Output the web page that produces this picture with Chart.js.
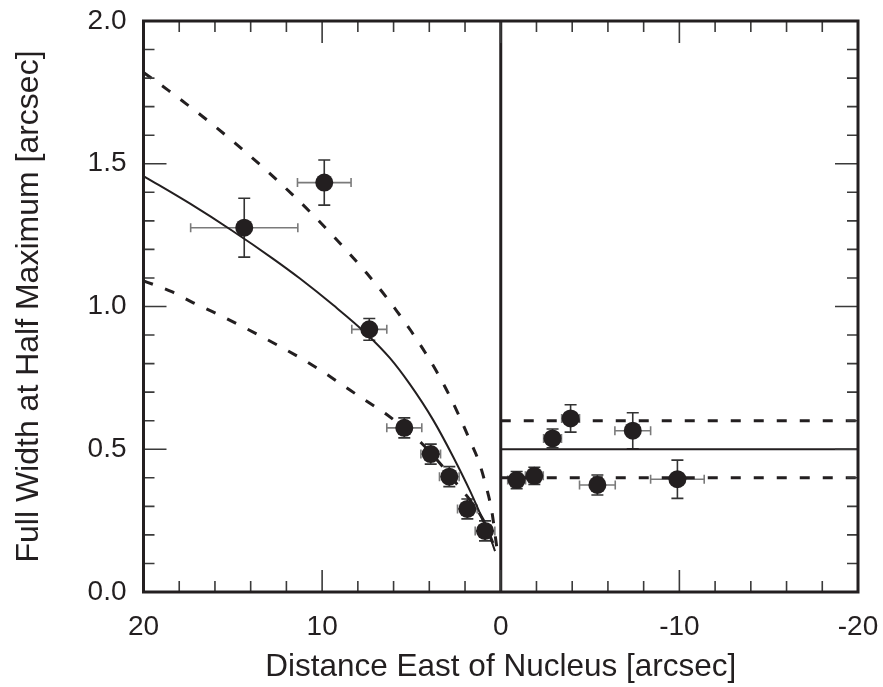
<!DOCTYPE html>
<html>
<head>
<meta charset="utf-8">
<script src="https://cdn.jsdelivr.net/npm/chart.js@4.4.1/dist/chart.umd.min.js"></script>
<style>
  html, body { margin: 0; padding: 0; background: #ffffff; }
  #wrap { width: 883px; height: 687px; }
</style>
</head>
<body>
<div id="wrap"><canvas id="c" width="883" height="687"></canvas></div>
<script>
// ---- data ----
const xTickValues = [20, 10, 0, -10, -20];
const yTickValues = [0.0, 0.5, 1.0, 1.5, 2.0];

// east-side measurements
const eastX    = [14.36, 9.88, 7.36, 5.40, 3.92, 2.88, 1.87, 0.88];
const eastY    = [1.276, 1.434, 0.920, 0.575, 0.483, 0.404, 0.291, 0.214];
const eastXErr = [3.0, 1.5, 0.98, 0.98, 0.55, 0.55, 0.55, 0.55];
const eastYErr = [0.103, 0.079, 0.038, 0.035, 0.035, 0.035, 0.035, 0.035];

// west-side measurements
const westX    = [-0.89, -1.88, -2.90, -3.91, -5.41, -7.39, -9.89];
const westY    = [0.392, 0.407, 0.538, 0.608, 0.375, 0.565, 0.395];
const westXErr = [0.5, 0.5, 0.5, 0.5, 1.0, 1.0, 1.5];
const westYErr = [0.03, 0.03, 0.033, 0.048, 0.035, 0.063, 0.067];

// model curves (east side)
const modelX = [20, 17.39, 15.07, 12.74, 11.24, 9.38, 7.51, 6.20, 5.08, 3.78, 2.66, 1.72, 0.98, 0.51, 0.32];
const modelY = [1.457, 1.360, 1.267, 1.167, 1.098, 1.005, 0.904, 0.819, 0.727, 0.602, 0.473, 0.354, 0.249, 0.177, 0.143];
const upperX = [20, 18.61, 17.59, 16.46, 15.38, 14.32, 13.30, 12.27, 11.28, 10.31, 9.38, 8.44, 7.51, 6.61, 5.83, 5.03, 4.24, 3.59, 2.84, 2.28, 1.72, 1.20, 0.83, 0.51, 0.23];
const upperY = [1.82, 1.757, 1.709, 1.654, 1.599, 1.543, 1.487, 1.428, 1.369, 1.308, 1.247, 1.183, 1.117, 1.049, 0.985, 0.915, 0.840, 0.772, 0.684, 0.610, 0.530, 0.452, 0.372, 0.286, 0.160];
const lowerX = [20, 18.42, 17.21, 15.94, 14.75, 13.52, 12.27, 11.09, 9.93, 8.72, 7.60, 6.48, 4.43, 2.56, 0.98, 0.32];
const lowerY = [1.09, 1.052, 1.013, 0.976, 0.939, 0.899, 0.857, 0.815, 0.770, 0.719, 0.672, 0.626, 0.521, 0.386, 0.252, 0.153];

// west-side levels
const westLineX = [0, -20];
const westMean  = 0.5;
const westHigh  = 0.6;
const westLow   = 0.4;

// nucleus line
const nucleusX = 0;

// ---- build ----
const INK = '#231f20';
const FONT = "'Liberation Sans', Arial, Helvetica, sans-serif";
const zip = (xs, ys) => xs.map((x, i) => ({ x, y: ys[i] }));
const flat = (xs, y) => xs.map(x => ({ x, y }));

const errorBars = {
  id: 'errorBars',
  beforeDatasetsDraw(chart) {
    const { ctx, scales: { x, y } } = chart;
    const sets = [[eastX, eastY, eastXErr, eastYErr], [westX, westY, westXErr, westYErr]];
    ctx.save();
    sets.forEach(([xs, ys, xe, ye]) => {
      xs.forEach((xv, i) => {
        const px = x.getPixelForValue(xv), py = y.getPixelForValue(ys[i]);
        const x1 = x.getPixelForValue(xv - xe[i]), x2 = x.getPixelForValue(xv + xe[i]);
        const y1 = y.getPixelForValue(ys[i] - ye[i]), y2 = y.getPixelForValue(ys[i] + ye[i]);
        ctx.strokeStyle = '#7a7a7a'; ctx.lineWidth = 1.6;
        ctx.beginPath();
        ctx.moveTo(x1, py); ctx.lineTo(x2, py);
        ctx.moveTo(x1, py - 4.5); ctx.lineTo(x1, py + 4.5);
        ctx.moveTo(x2, py - 4.5); ctx.lineTo(x2, py + 4.5);
        ctx.stroke();
        ctx.strokeStyle = '#333'; ctx.lineWidth = 1.6;
        ctx.beginPath();
        ctx.moveTo(px, y1); ctx.lineTo(px, y2);
        ctx.moveTo(px - 6, y1); ctx.lineTo(px + 6, y1);
        ctx.moveTo(px - 6, y2); ctx.lineTo(px + 6, y2);
        ctx.stroke();
      });
    });
    ctx.restore();
  }
};

const frameTicks = {
  id: 'frameTicks',
  afterDatasetsDraw(chart) {
    const { ctx, chartArea: a, scales: { x, y } } = chart;
    ctx.save();
    ctx.strokeStyle = '#3a3a3a';
    ctx.lineWidth = 1.6;
    ctx.beginPath();
    for (let v = -20; v <= 20; v += 2) {
      const px = x.getPixelForValue(v);
      const len = (v % 10 === 0) ? 22 : 11;
      ctx.moveTo(px, a.bottom); ctx.lineTo(px, a.bottom - len);
      ctx.moveTo(px, a.top); ctx.lineTo(px, a.top + len);
    }
    for (let k = 0; k <= 20; k++) {
      const v = k / 10;
      const py = y.getPixelForValue(v);
      const len = (k % 5 === 0) ? 23 : 11;
      ctx.moveTo(a.left, py); ctx.lineTo(a.left + len, py);
      ctx.moveTo(a.right, py); ctx.lineTo(a.right - len, py);
    }
    ctx.stroke();
    ctx.strokeStyle = INK;
    ctx.lineWidth = 3;
    ctx.strokeRect(a.left, a.top, a.right - a.left, a.bottom - a.top);
    ctx.restore();
  }
};

const dash = [10, 13];
const noPad = s => { s.paddingTop = 0; s.paddingBottom = 0; s.paddingLeft = 0; s.paddingRight = 0; };

new Chart(document.getElementById('c'), {
  type: 'scatter',
  data: {
    datasets: [
      { label: 'east', data: zip(eastX, eastY), pointRadius: 9, pointHoverRadius: 9,
        backgroundColor: INK, borderColor: INK, borderWidth: 0, showLine: false },
      { label: 'west', data: zip(westX, westY), pointRadius: 9, pointHoverRadius: 9,
        backgroundColor: INK, borderColor: INK, borderWidth: 0, showLine: false },
      { label: 'model', data: zip(modelX, modelY), showLine: true, pointRadius: 0,
        borderColor: INK, borderWidth: 2, cubicInterpolationMode: 'monotone' },
      { label: 'upper', data: zip(upperX, upperY), showLine: true, pointRadius: 0,
        borderColor: INK, borderWidth: 3, borderDash: dash, cubicInterpolationMode: 'monotone' },
      { label: 'lower', data: zip(lowerX, lowerY), showLine: true, pointRadius: 0,
        borderColor: INK, borderWidth: 3, borderDash: dash, cubicInterpolationMode: 'monotone' },
      { label: 'westMean', data: flat(westLineX, westMean), showLine: true, pointRadius: 0,
        borderColor: INK, borderWidth: 2 },
      { label: 'westHigh', data: flat(westLineX, westHigh), showLine: true, pointRadius: 0,
        borderColor: INK, borderWidth: 3, borderDash: dash },
      { label: 'westLow', data: flat(westLineX, westLow), showLine: true, pointRadius: 0,
        borderColor: INK, borderWidth: 3, borderDash: dash },
      { label: 'nucleus', data: [{ x: nucleusX, y: 0 }, { x: nucleusX, y: 2 }], showLine: true, pointRadius: 0,
        borderColor: INK, borderWidth: 3 }
    ]
  },
  options: {
    responsive: false,
    animation: false,
    events: [],
    layout: { padding: { left: 0, right: 25, top: 21, bottom: 0 } },
    plugins: { legend: { display: false }, tooltip: { enabled: false } },
    scales: {
      x: {
        type: 'linear', min: -20, max: 20, reverse: true,
        afterFit(s) { s.height = 95; noPad(s); },
        afterBuildTicks(s) { s.ticks = xTickValues.map(v => ({ value: v })); },
        grid: { display: false, drawTicks: false },
        border: { display: false },
        ticks: { padding: 18, color: INK, font: { family: FONT, size: 28 },
                 callback: v => String(v), maxRotation: 0, autoSkip: false },
        title: { display: true, text: 'Distance East of Nucleus [arcsec]', color: INK,
                 font: { family: FONT, size: 31.5 }, padding: { top: 0, bottom: 1 } }
      },
      y: {
        type: 'linear', min: 0, max: 2,
        afterFit(s) { s.width = 143.5; noPad(s); },
        afterBuildTicks(s) { s.ticks = yTickValues.map(v => ({ value: v })); },
        grid: { display: false, drawTicks: false },
        border: { display: false },
        ticks: { padding: 17, color: INK, font: { family: FONT, size: 28 },
                 callback: v => Number(v).toFixed(1), autoSkip: false },
        title: { display: true, text: 'Full Width at Half Maximum [arcsec]', color: INK,
                 font: { family: FONT, size: 32 }, padding: { top: 9.5, bottom: 0 } }
      }
    }
  },
  plugins: [errorBars, frameTicks]
});
</script>
</body>
</html>
